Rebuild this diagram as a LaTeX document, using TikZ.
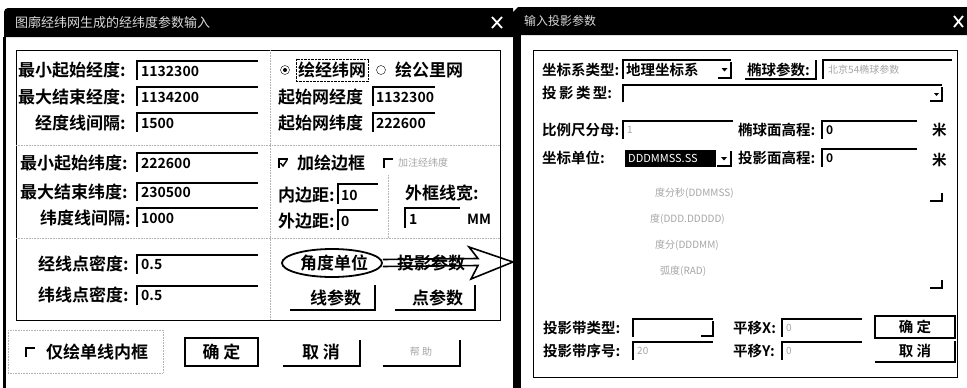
\documentclass[tikz,border=0pt]{standalone}
\usepackage{fontspec}
\setmainfont{Noto Sans CJK SC}[BoldFont={Noto Sans CJK SC Bold}]
\usetikzlibrary{shapes.geometric}

\tikzset{
  lab/.style={font=\bfseries\fontsize{17}{19}\selectfont, anchor=west, inner sep=0pt},
  labr/.style={font=\bfseries\fontsize{14.5}{17}\selectfont, anchor=west, inner sep=0pt},
  val/.style={font=\bfseries\fontsize{14}{16}\selectfont, anchor=west, inner sep=0pt},
  faint/.style={font=\fontsize{10}{12}\selectfont, anchor=west, inner sep=0pt, black!35},
  ttl/.style={font=\fontsize{13}{15}\selectfont, anchor=west, inner sep=0pt, white!85!black},
  sunk/.style={line width=1.3pt},
  raised/.style={line width=1.4pt},
  dflt/.style={line width=1.8pt},
  sep/.style={densely dotted, black!30, line width=0.6pt},
  grp/.style={line width=0.9pt},
  ring/.style={draw, ellipse, line width=1.8pt, inner sep=0pt},
  hollow/.style={line width=1.6pt, line join=miter}
}

\begin{document}
\begin{tikzpicture}[x=1pt,y=1pt]
\useasboundingbox (0,0) rectangle (967,-388);
\fill [white] (0,0) rectangle (967,-388);
% left dialog
\fill [black] (4,-37) -- (4,-12) arc (180:90:4) -- (513,-8) -- (513,-37) -- cycle;
\draw [line width=3pt] (4,-37) -- (4,-388);
\node [ttl] (ltitle) at (15,-23) {图廓经纬网生成的经纬度参数输入};
\draw [white, line width=1.8pt] (492,-17) -- (502,-28) (502,-17) -- (492,-28);
\draw [grp] (16,-50) rectangle (500,-320);
\draw [sep] (16,-145) -- (500,-145);
\draw [sep] (16,-238) -- (500,-238);
\draw [sep] (270,-50) -- (270,-320);
\draw [sep] (388,-175) -- (388,-238);
\node [lab] (minlon) at (18,-70) {最小起始经度:};
\draw [sunk] (137,-80) |- (258,-61);
\node [val] (minlonv) at (141,-71) {1132300};
\node [lab] (maxlon) at (18,-97) {最大结束经度:};
\draw [sunk] (137,-106) |- (258,-87);
\node [val] (maxlonv) at (141,-97) {1134200};
\node [lab] (gaplon) at (35,-123) {经度线间隔:};
\draw [sunk] (137,-132) |- (258,-113);
\node [val] (gaplonv) at (141,-123) {1500};
\node [lab] (minlat) at (20,-163) {最小起始纬度:};
\draw [sunk] (137,-172) |- (258,-153);
\node [val] (minlatv) at (141,-163) {222600};
\node [lab] (maxlat) at (20,-192) {最大结束纬度:};
\draw [sunk] (137,-201) |- (258,-183);
\node [val] (maxlatv) at (141,-192) {230500};
\node [lab] (gaplat) at (40,-218) {纬度线间隔:};
\draw [sunk] (137,-227) |- (258,-208);
\node [val] (gaplatv) at (141,-218) {1000};
\node [lab] (denlon) at (38,-264) {经线点密度:};
\draw [sunk] (137,-274) |- (258,-255);
\node [val] (denlonv) at (141,-264) {0.5};
\node [lab] (denlat) at (38,-295) {纬线点密度:};
\draw [sunk] (137,-305) |- (258,-286);
\node [val] (denlatv) at (141,-295) {0.5};
\draw (285,-70) circle (4.5);
\fill (285,-70) circle (2);
\node [lab] (gridll) at (298,-70) {绘经纬网};
\draw [densely dotted] ([shift={(-2,3)}]gridll.north west) rectangle ([shift={(2,-3)}]gridll.south east);
\draw (381,-70) circle (4.5);
\node [lab] (gridkm) at (395,-70) {绘公里网};
\node [lab] (startlon) at (278,-97) {起始网经度};
\draw [sunk] (373,-106) |- (435,-87);
\node [val] (startlonv) at (376,-97) {1132300};
\node [lab] (startlat) at (278,-123) {起始网纬度};
\draw [sunk] (373,-132) |- (435,-113);
\node [val] (startlatv) at (376,-123) {222600};
\draw [sunk] (279,-168) |- (288,-159);
\draw [line width=1.4pt] (280.5,-163) -- (283,-166) -- (287,-160);
\node [lab] (border) at (297,-163) {加绘边框};
\draw [sunk] (384,-168) |- (393,-159);
\node [faint] (borderx) at (398,-163) {加注经纬度};
\node [lab] (inpad) at (278,-195) {内边距:};
\draw [sunk] (338,-204) |- (378,-184);
\node [val] (inpadv) at (341,-195) {10};
\node [lab] (outpad) at (278,-221) {外边距:};
\draw [sunk] (338,-230) |- (378,-210);
\node [val] (outpadv) at (341,-221) {0};
\node [lab] (framew) at (405,-193) {外框线宽:};
\draw [sunk] (405,-228) |- (460,-208);
\node [val] (framewv) at (409,-219) {1};
\node [val] (mm) at (467,-219) {MM};
\node [lab] (unitbtn) at (300,-263) {角度单位};
\node [ring, minimum width=100, minimum height=28] (unitring) at (332,-263) {};
\node [lab] (projbtn) at (397,-263) {投影参数};
\draw [raised] (290,-310) -| (375,-285);
\node [lab] (linebtn) at (310,-298) {线参数};
\draw [raised] (395,-310) -| (475,-285);
\node [lab] (ptbtn) at (412,-298) {点参数};
\coordinate (rtip) at (513,-262);
\draw [hollow] ([yshift=3.5]unitring.east) -- ([xshift=-35,yshift=3.5]rtip) -- ([xshift=-44,yshift=15]rtip)
  -- (rtip) -- ([xshift=-42,yshift=-17]rtip) -- ([xshift=-35,yshift=-3.5]rtip) -- ([yshift=-3.5]unitring.east);
\draw [sep] (8,-330) rectangle (163,-373);
\draw [sunk] (26,-357) |- (35,-348);
\node [lab] (single) at (46,-352) {仅绘单线内框};
\draw [dflt] (185,-338) rectangle (258,-366);
\node [lab, anchor=center] (lok) at (221.5,-352) {确\ 定};
\draw [raised] (283,-366) -| (360,-340);
\node [lab, anchor=center] (lcancel) at (321,-352) {取\ 消};
\draw [raised] (383,-366) -| (460,-340);
\node [faint, anchor=center] (lhelp) at (421,-352) {帮\ 助};
% right dialog
\fill [black] (513,-35) -- (513,-12) -- (518,-7) -- (967,-7) -- (967,-35) -- cycle;
\fill [black] (513,-35) rectangle (521,-388);
\node [ttl, font=\fontsize{12}{14}\selectfont] (rtitle) at (524,-21) {输入投影参数};
\draw [white, line width=1.8pt] (954,-16) -- (963,-27) (963,-16) -- (954,-27);
\draw [grp] (533,-50) rectangle (957,-377);
\node [labr] (crs) at (542,-70) {坐标系类型:};
\draw [sunk] (623,-79) |- (731,-60);
\node [labr] (crsv) at (626,-70) {地理坐标系};
\draw [raised] (718,-78) -| (731,-62);
\fill (721.5,-68) -- (727.5,-68) -- (724.5,-71.5) -- cycle;
\draw [raised] (745,-79) -| (816,-60);
\node [labr] (ellip) at (747,-70) {椭球参数:};
\draw [sunk] (823,-79) |- (952,-60);
\node [faint] (ellipv) at (828,-70) {北京54椭球参数};
\node [labr] (ptype) at (542,-93) {投\,影\,类\,型:};
\draw [sunk] (623,-102) |- (942,-85);
\draw [raised] (930,-101) -| (942,-87);
\fill (934,-93) -- (939,-93) -- (936.5,-96) -- cycle;
\node [labr] (scale) at (542,-130) {比例尺分母:};
\draw [sunk] (623,-139) |- (733,-121);
\node [faint] (scalev) at (627,-130) {1};
\node [labr] (ellh) at (738,-130) {椭球面高程:};
\draw [sunk] (822,-139) |- (917,-121);
\node [val, font=\bfseries\fontsize{12}{14}\selectfont] (ellhv) at (826,-130) {0};
\node [labr] (ellhm) at (932,-130) {米};
\node [labr] (cunit) at (542,-158) {坐标单位:};
\fill [black] (625,-150) rectangle (716,-167);
\node [font=\fontsize{11}{13}\selectfont, white, inner sep=0pt, anchor=west] (cunitv) at (628,-158.5) {DDDMMSS.SS};
\draw [raised, fill=white] (717,-166) -| (731,-151);
\fill (721,-157) -- (727,-157) -- (724,-160.5) -- cycle;
\node [labr] (projh) at (738,-158) {投影面高程:};
\draw [sunk] (822,-167) |- (917,-149);
\node [val, font=\bfseries\fontsize{12}{14}\selectfont] (projhv) at (826,-158) {0};
\node [labr] (projhm) at (932,-160) {米};
\node [faint] (row1) at (655,-193) {度分秒(DDMMSS)};
\node [faint] (row2) at (650,-219) {度(DDD.DDDDD)};
\node [faint] (row3) at (655,-245) {度分(DDDMM)};
\node [faint] (row4) at (660,-271) {弧度(RAD)};
\draw [raised] (930,-201) -| (942,-193);
\draw [raised] (930,-288) -| (942,-280);
\node [labr] (zonetype) at (543,-328) {投影带类型:};
\draw [sunk] (633,-337) |- (713,-319);
\draw [raised] (701,-336) -| (713,-321);
\node [labr] (dx) at (733,-328) {平移X:};
\draw [sunk] (782,-337) |- (862,-319);
\node [faint] (dxv) at (786,-328) {0};
\draw [dflt] (875,-316) rectangle (955,-338);
\node [labr, anchor=center] (rok) at (915,-327) {确\ 定};
\node [labr] (zoneno) at (543,-351) {投影带序号:};
\draw [sunk] (633,-360) |- (713,-342);
\node [faint] (zonenov) at (637,-351) {20};
\node [labr] (dy) at (733,-351) {平移Y:};
\draw [sunk] (782,-360) |- (862,-342);
\node [faint] (dyv) at (786,-351) {0};
\draw [raised] (875,-362) -| (955,-341);
\node [labr, anchor=center] (rcancel) at (915,-351) {取\ 消};
\end{tikzpicture}
\end{document}
